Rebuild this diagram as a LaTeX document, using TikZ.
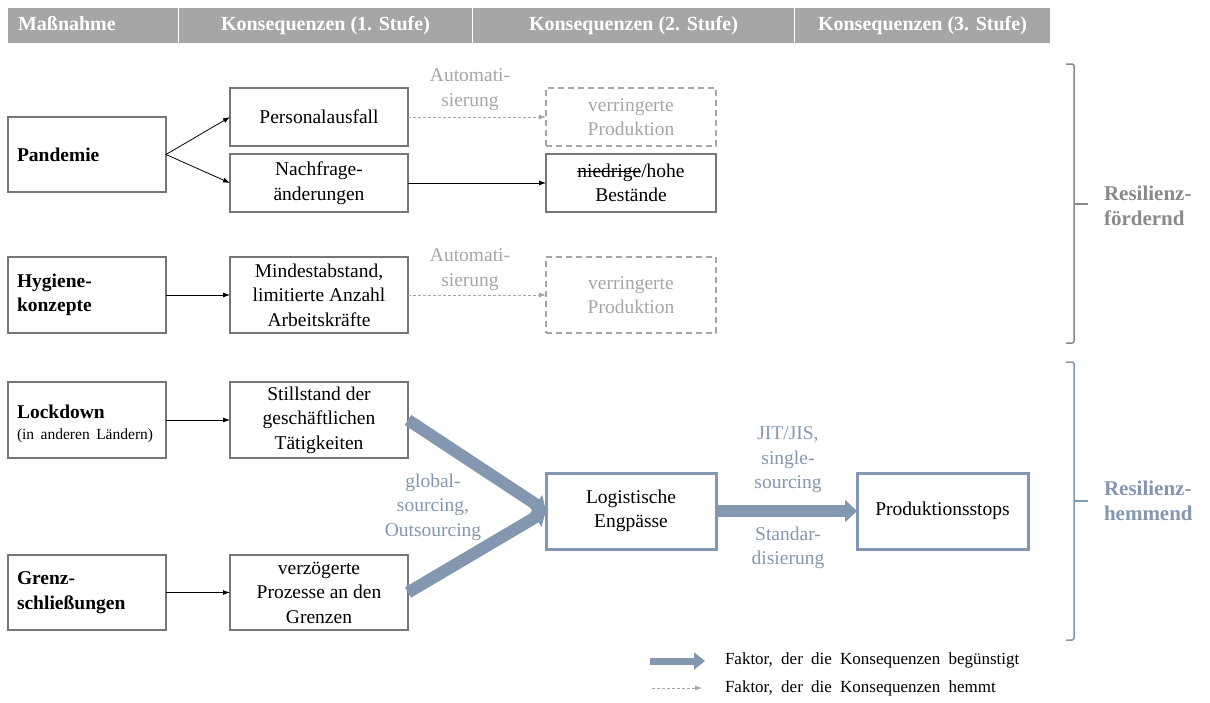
\documentclass[tikz,border=0pt]{standalone}
\usepackage{fontspec}
\setmainfont{Liberation Serif}
\usetikzlibrary{arrows.meta}
\definecolor{hdrgray}{HTML}{A6A6A6}
\definecolor{boxgray}{HTML}{767676}
\definecolor{softgray}{HTML}{A6A6A6}
\definecolor{slate}{HTML}{8497B0}
\definecolor{bracegray}{HTML}{8A8A8A}
\newcommand\bodyfont{\fontsize{19.5}{24.5}\selectfont}
\newcommand\legendfont{\fontsize{17}{20}\selectfont\spaceskip=8.25pt plus 1pt\relax}
% a word with a horizontal line struck through it
\newsavebox\strikebox
\newcommand\strikeword[1]{\sbox\strikebox{#1}\rlap{\rule[0.27em]{\wd\strikebox}{1.1pt}}\usebox\strikebox}

\begin{document}
\begin{tikzpicture}[x=1pt,y=-1pt,
  every node/.style={inner sep=0pt, outer sep=0pt},
  hdr/.style={fill=hdrgray, text=white, font=\fontsize{20}{24}\selectfont\bfseries,
    minimum height=35pt, text height=14pt, text depth=4pt},
  box/.style={draw=boxgray, line width=1.5pt, align=center, font=\bodyfont},
  boldbox/.style={box, minimum width=158pt, text width=140pt, align=left,
    font=\bodyfont\bfseries},
  midbox/.style={box, minimum width=178pt},
  dbox/.style={box, draw=softgray, dash pattern=on 6pt off 4pt, text=softgray,
    minimum width=170pt},
  bbox/.style={box, draw=slate, line width=3pt},
  graylabel/.style={align=center, font=\bodyfont, text=softgray},
  bluelabel/.style={align=center, font=\bodyfont, text=slate},
  thinarr/.style={-{Latex[length=7pt,width=5pt]}, line width=0.8pt, black},
  dasharr/.style={-{Latex[length=7pt,width=5pt]}, line width=0.8pt, softgray,
    dash pattern=on 3pt off 2pt},
  fatarr/.style={-{Triangle[length=12pt,width=22pt]}, line width=12pt, slate},
  bracket/.style={line width=1.5pt, rounded corners=2pt},
  sidetext/.style={anchor=west, align=left, font=\fontsize{21}{25}\selectfont\bfseries},
  legendtext/.style={anchor=west, font=\legendfont}
]
\useasboundingbox (0,0) rectangle (1210,702);

% header row
\node[hdr, minimum width=170pt, text width=150pt, align=left] (h1) at (93,25.5) {Maßnahme};
\node[hdr, minimum width=293pt] (h2) at (325.5,25.5) {Konsequenzen (1. Stufe)};
\node[hdr, minimum width=321pt] (h3) at (633.5,25.5) {Konsequenzen (2. Stufe)};
\node[hdr, minimum width=255pt] (h4) at (922.5,25.5) {Konsequenzen (3. Stufe)};

% measures
\node[boldbox, minimum height=75pt] (pand) at (87,154.5) {Pandemie};
\node[boldbox, minimum height=76pt] (hyg) at (87,295) {Hygiene-\\konzepte};
\node[boldbox, minimum height=76pt] (lock) at (87,420) {};
\node[text width=140pt, align=left, font=\bodyfont] (locktxt) at ([yshift=-4pt]lock.center)
  {\textbf{Lockdown}\\[-3pt]{\fontsize{15.5}{17}\selectfont (in anderen Ländern)}};
\node[boldbox, minimum height=75pt] (grenz) at (87,592.5) {Grenz-\\schließungen};

% first-level consequences
\node[midbox, minimum height=58pt] (pers) at (319,117) {Personalausfall};
\node[midbox, minimum height=58pt] (nach) at (319,183) {Nachfrage-\\änderungen};
\node[midbox, minimum height=76pt] (mind) at (319,295) {Mindestabstand,\\limitierte Anzahl\\Arbeitskräfte};
\node[midbox, minimum height=76pt] (still) at (319,420) {Stillstand der\\geschäftlichen\\Tätigkeiten};
\node[midbox, minimum height=75pt] (verz) at (319,592.5) {verzögerte\\Prozesse an den\\Grenzen};

% second-level consequences
\node[dbox, minimum height=58pt] (verr1) at (631,117) {verringerte\\Produktion};
\node[box, minimum width=170pt, minimum height=58pt] (best) at (631,183) {\strikeword{niedrige}/hohe\\Bestände};
\node[dbox, minimum height=76pt] (verr2) at (631,295) {verringerte\\Produktion};
\node[bbox, minimum width=170pt, minimum height=76pt] (logi) at (631,511) {Logistische\\Engpässe};

% third-level consequence
\node[bbox, minimum width=171pt, minimum height=76pt] (prod) at (942.5,511) {Produktionsstops};

% connectors
\draw[thinarr] (pand.east) -- (pers.west);
\draw[thinarr] (pand.east) -- (nach.west);
\draw[thinarr] (nach.east) -- (best.west);
\draw[thinarr] (hyg.east) -- (mind.west);
\draw[thinarr] (lock.east) -- (still.west);
\draw[thinarr] (grenz.east) -- (verz.west);
\draw[dasharr] (pers.east) -- (verr1.west);
\draw[dasharr] (mind.east) -- (verr2.west);
\draw[fatarr] (still.east) -- (logi.west);
\draw[fatarr] (verz.east) -- (logi.west);
\draw[fatarr] (logi.east) -- (prod.west);

% connector labels
\node[graylabel] (auto1) at (470,89.5) {Automati-\\sierung};
\node[graylabel] (auto2) at (470,269.5) {Automati-\\sierung};
\node[bluelabel] (glob) at (433,507) {global-\\sourcing,\\Outsourcing};
\node[bluelabel] (jit) at (788,460) {JIT/JIS,\\single-\\sourcing};
\node[bluelabel] (stand) at (788,548) {Standar-\\disierung};

% side brackets
\draw[bracket, bracegray] (1066,64) -- (1074,64) -- (1074,343) -- (1066,343);
\draw[line width=1.5pt, bracegray] (1074,204) -- (1088,204);
\node[sidetext, text=bracegray] (rf) at (1104,206) {Resilienz-\\fördernd};
\draw[bracket, slate] (1066,362) -- (1074,362) -- (1074,640) -- (1066,640);
\draw[line width=1.5pt, slate] (1074,501) -- (1088,501);
\node[sidetext, text=slate] (rh) at (1104,501) {Resilienz-\\hemmend};

% legend
\coordinate (lg1a) at (650,661);
\coordinate (lg1b) at (705,661);
\draw[line width=7pt, slate, -{Triangle[length=11pt,width=17pt]}] (lg1a) -- (lg1b);
\node[legendtext] (lgt1) at (725,660) {Faktor, der die Konsequenzen begünstigt};
\coordinate (lg2a) at (652,688);
\coordinate (lg2b) at (702,688);
\draw[dasharr] (lg2a) -- (lg2b);
\node[legendtext] (lgt2) at (725,688) {Faktor, der die Konsequenzen hemmt};
\end{tikzpicture}
\end{document}
